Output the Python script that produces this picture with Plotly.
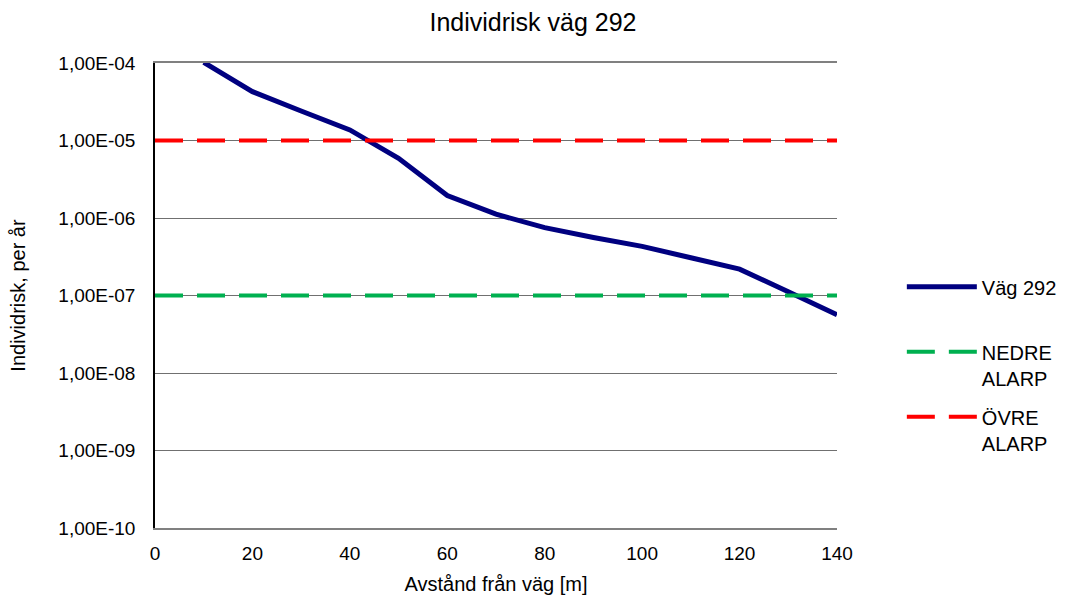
import plotly.graph_objects as go

distance = [10, 20, 30, 40, 50, 60, 70, 80, 90, 100, 110, 120, 130, 140]
risk_vag292 = [1.02e-4, 4.27e-5, 2.4e-5, 1.37e-5, 5.9e-6, 1.95e-6, 1.12e-6, 7.5e-7,
               5.6e-7, 4.3e-7, 3.07e-7, 2.19e-7, 1.12e-7, 5.66e-8]
limit_x = [0, 140]
nedre_alarp = [1e-7, 1e-7]
ovre_alarp = [1e-5, 1e-5]
ytick_vals = [1e-10, 1e-9, 1e-8, 1e-7, 1e-6, 1e-5, 1e-4]
ytick_text = ["1,00E-10", "1,00E-09", "1,00E-08", "1,00E-07", "1,00E-06", "1,00E-05", "1,00E-04"]
xtick_vals = [0, 20, 40, 60, 80, 100, 120, 140]

font = "Liberation Sans, Arial, sans-serif"

fig = go.Figure()
fig.add_trace(go.Scatter(x=distance, y=risk_vag292, mode="lines", name="Väg 292<br>&nbsp;",
                         line=dict(color="#000080", width=5), legendgroup="a"))
fig.add_trace(go.Scatter(x=limit_x, y=nedre_alarp, mode="lines", name="NEDRE<br>ALARP",
                         line=dict(color="#00b050", width=4, dash="28px,14px"), legendgroup="b"))
fig.add_trace(go.Scatter(x=limit_x, y=ovre_alarp, mode="lines", name="ÖVRE<br>ALARP",
                         line=dict(color="#ff0000", width=4, dash="28px,14px"), legendgroup="c"))

fig.update_layout(
    width=1066, height=599,
    margin=dict(l=155, r=229, t=63, b=71, autoexpand=False),
    paper_bgcolor="white", plot_bgcolor="white",
    font=dict(family=font, size=19, color="black"),
    title=dict(text="Individrisk väg 292", x=0.5, xref="container", xanchor="center",
               y=0.963, yanchor="middle", font=dict(size=25)),
    legend=dict(xref="container", yref="container", x=0.846, xanchor="left",
                y=0.391, yanchor="middle",
                traceorder="grouped", tracegroupgap=10, itemwidth=70, valign="top",
                font=dict(size=20), bgcolor="rgba(0,0,0,0)"),
    showlegend=True,
)
fig.update_xaxes(range=[0, 140], tickvals=xtick_vals, showgrid=False, zeroline=False,
                 showline=True, linecolor="#808080", linewidth=1.5, mirror=True,
                 ticks="", ticklen=0, tickfont=dict(size=19), ticklabelstandoff=7,
                 automargin=False,
                 title=dict(text="Avstånd från väg [m]", font=dict(size=20), standoff=14))
fig.update_yaxes(type="log", range=[-10, -4], tickvals=ytick_vals, ticktext=ytick_text,
                 showgrid=True, gridcolor="#707070", gridwidth=1, zeroline=False,
                 showline=True, linecolor="black", linewidth=1.5, ticks="",
                 tickfont=dict(size=19), ticklabelstandoff=14, automargin=False,
                 title=dict(text="Individrisk, per år", font=dict(size=20), standoff=27))

fig.write_html("out.html", config={"displayModeBar": False},
               post_script="document.body.style.margin='0';")
